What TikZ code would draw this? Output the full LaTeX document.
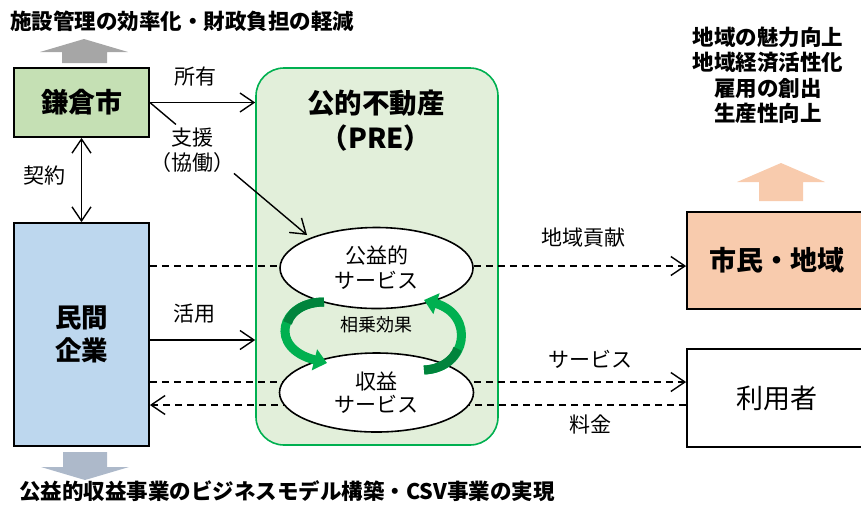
\documentclass[tikz,border=0pt]{standalone}
\usepackage{fontspec}
\setmainfont{Noto Sans CJK JP}
\usetikzlibrary{arrows.meta,shapes.geometric}
\definecolor{grayarrow}{HTML}{A6A6A6}
\definecolor{bluegray}{HTML}{ADB9CA}
\definecolor{peach}{HTML}{F8CBAD}
\definecolor{kamagreen}{HTML}{C5E0B4}
\definecolor{minblue}{HTML}{BDD7EE}
\definecolor{pregreen}{HTML}{00B050}
\definecolor{prefill}{HTML}{E2EFDA}
\definecolor{synbright}{HTML}{00B050}
\definecolor{syndark}{HTML}{00843C}
\begin{document}
\begin{tikzpicture}[x=1pt,y=-1pt,
  txt/.style={inner sep=0pt, align=center, font=\fontsize{21}{25}\selectfont},
  ttl/.style={inner sep=0pt, align=center, font=\bfseries\fontsize{21.5}{25.5}\selectfont},
  box/.style={draw=black, line width=1.8pt, inner sep=0pt, align=center},
  ell/.style={ellipse, draw=black, line width=1.6pt, fill=white, inner sep=0pt, align=center},
  conn/.style={line width=1.4pt, -{Straight Barb[length=14pt,width=19pt]}},
  conntwo/.style={line width=1.4pt, {Straight Barb[length=14pt,width=19pt]}-{Straight Barb[length=14pt,width=19pt]}},
  dsh/.style={conn, dash pattern=on 7pt off 5pt},
  syn/.style={line width=9pt, draw=synbright, -{Triangle[length=13pt,width=21pt]}},
  syndk/.style={line width=9pt, draw=syndark},
]
\useasboundingbox (0,0) rectangle (861,507);

% block arrows
\fill[grayarrow] (84,39) -- (128,52) -- (107,52) -- (107,63) -- (62,63) -- (62,52) -- (40,52) -- cycle;
\fill[bluegray] (85,480) -- (129,467) -- (107,467) -- (107,452) -- (63,452) -- (63,467) -- (41,467) -- cycle;
\fill[peach] (781,163) -- (825,182) -- (803,182) -- (803,201) -- (759,201) -- (759,182) -- (737,182) -- cycle;

% main boxes
\node[box, fill=kamagreen, minimum width=135pt, minimum height=69pt, font=\bfseries\fontsize{27}{33}\selectfont] (kamakura) at (81.5,102.5) {鎌倉市};
\node[box, fill=minblue, minimum width=135pt, minimum height=223pt, font=\bfseries\fontsize{26.5}{33}\selectfont] (minkan) at (81.5,334.5) {民間\\企業};
\node[draw=pregreen, line width=1.6pt, fill=prefill, rounded corners=28pt, minimum width=242pt, minimum height=377pt] (pre) at (377,256.5) {};
\node[inner sep=0pt, align=center, font=\bfseries\fontsize{27.5}{35}\selectfont] (pretitle) at (376,120.5) {公的不動産\\（PRE）};
\node[box, fill=peach, minimum width=179pt, minimum height=97pt, font=\bfseries\fontsize{27}{33}\selectfont] (shimin) at (776.5,260.5) {市民・地域};
\node[box, fill=white, minimum width=179pt, minimum height=98pt, font=\fontsize{27}{33}\selectfont] (riyo) at (776.5,398) {利用者};

% connectors
\draw[conn] (kamakura.east) -- (kamakura.east -| pre.west);
\draw[conntwo] (kamakura.south) -- (minkan.north);
\coordinate (shientip) at (307,235);
\draw[conn, dash pattern=on 34pt off 76pt on 400pt] (kamakura.east) -- (shientip);
\draw[conn] (minkan.east |- 0,340) -- (pre.west |- 0,340);
\draw[dsh] (minkan.east |- 0,266) -- (shimin.west |- 0,266);
\draw[dsh] (minkan.east |- 0,382) -- (riyo.west |- 0,382);
\draw[dsh] (riyo.west |- 0,405) -- (minkan.east |- 0,405);

% ellipses
\node[ell, minimum width=193pt, minimum height=81pt, font=\fontsize{21}{25}\selectfont] (koueki) at (376.5,268) {公益的\\サービス};
\node[ell, minimum width=194pt, minimum height=79pt, font=\fontsize{21}{23}\selectfont] (shueki) at (376.5,392.5) {収益\\サービス};

% synergy arrows
\draw[syn] (324,302) .. controls (280,302) and (268,348) .. (327,363);
\draw[syndk] (324,302) .. controls (304.2,302) and (290.9,311.3) .. (287.6,322.9);
\draw[syn] (424,370) .. controls (468,368) and (475,315) .. (424,300);
\draw[syndk] (424,370) .. controls (441.6,369.2) and (453.3,360.2) .. (457.7,348.8);
\node[inner sep=0pt, font=\fontsize{18}{22}\selectfont] (sojo) at (376,325) {相乗効果};

% labels
\node[txt] (shoyu) at (195,77) {所有};
\node[txt] (keiyaku) at (44.5,176) {契約};
\node[txt] (shien) at (192.5,150.5) {支援\\（協働）};
\node[txt] (katsuyo) at (194,314) {活用};
\node[txt] (kouken) at (583,238) {地域貢献};
\node[txt] (svc) at (590,359) {サービス};
\node[txt] (ryokin) at (590,424) {料金};

% titles
\node[ttl, anchor=west] (toptitle) at (10,21) {施設管理の効率化・財政負担の軽減};
\node[ttl] (effects) at (768,75) {地域の魅力向上\\地域経済活性化\\雇用の創出\\生産性向上};
\node[ttl, anchor=west] (bottitle) at (19,491) {公益的収益事業のビジネスモデル構築・CSV事業の実現};
\end{tikzpicture}
\end{document}
